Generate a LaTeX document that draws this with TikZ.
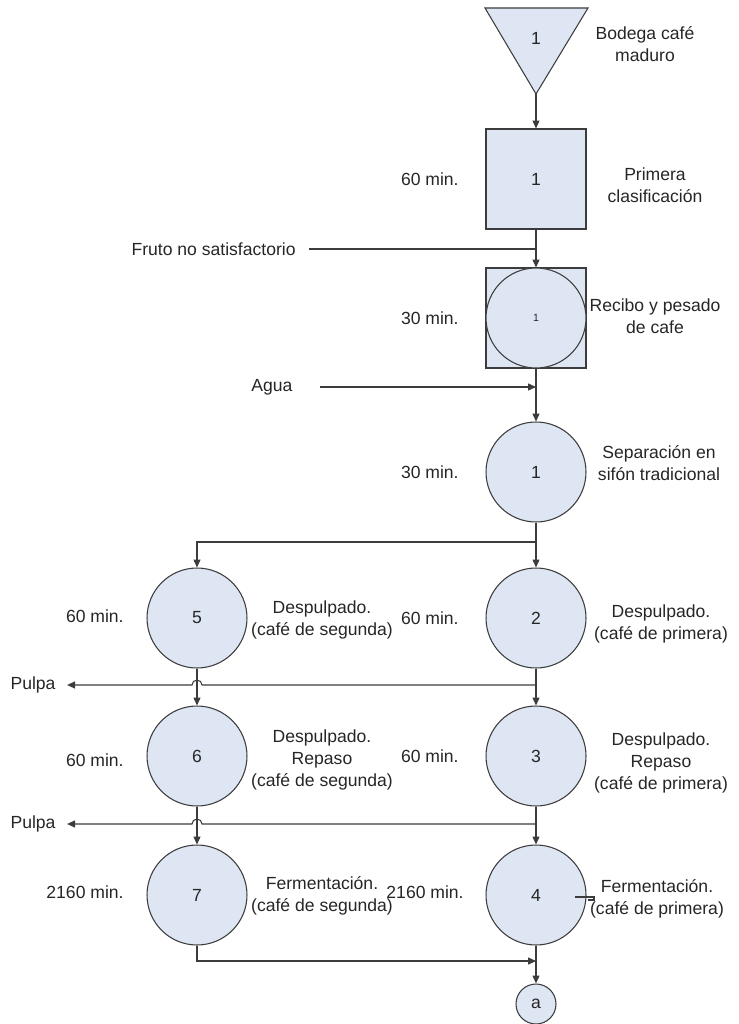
\documentclass[tikz,border=0pt]{standalone}
\usepackage{fontspec}
\setmainfont{Liberation Sans}
\usetikzlibrary{arrows.meta}
\definecolor{relleno}{RGB}{222,230,243}
\definecolor{trazo}{RGB}{60,60,60}
\begin{document}
\begin{tikzpicture}[x=0.02cm,y=-0.02cm,
	every node/.style={font=\fontsize{10}{12.5}\selectfont,text=black!85},
	circ/.style={draw=trazo,fill=relleno,circle,minimum size=2cm,inner sep=0pt},
	caja/.style={draw=trazo,fill=relleno,minimum size=2cm,inner sep=0pt},
	lbl/.style={align=center},
	tmin/.style={anchor=east},
	flow/.style={-{Triangle[length=4.5pt,width=4pt]}},
	line width=0.6pt,draw=trazo]
	\useasboundingbox (0,0) rectangle (738,1024);
	% almacen
	\draw[fill=relleno] (485,8) -- (588,8) -- (536,94) -- cycle;
	\coordinate (alm-tip) at (536,94);
	\node (alm) at (536,38) {1};
	\node[lbl] (alm-t) at (645,44) {Bodega café\\maduro};
	% columna principal
	\node[caja] (clas) at (536,179) {1};
	\node[lbl] (clas-t) at (655,185) {Primera\\clasificación};
	\node[tmin] (clas-m) at (465,179) {60 min.};
	\node[caja] (rec) at (536,318) {};
	\node[circ] (rec-c) at (rec) {\fontsize{6}{7}\selectfont 1};
	\node[lbl] (rec-t) at (655,316) {Recibo y pesado\\de cafe};
	\node[tmin] (rec-m) at (465,318) {30 min.};
	\node[circ] (sep) at (536,472) {1};
	\node[lbl] (sep-t) at (659,463) {Separación en\\sifón tradicional};
	\node[tmin] (sep-m) at (465,472) {30 min.};
	\node[circ] (d2) at (536,618) {2};
	\node[lbl] (d2-t) at (661,624) {Despulpado.\\(café de primera)};
	\node[tmin] (d2-m) at (465,618) {60 min.};
	\node[circ] (r3) at (536,756) {3};
	\node[lbl] (r3-t) at (661,763) {Despulpado.\\Repaso\\(café de primera)};
	\node[tmin] (r3-m) at (465,756) {60 min.};
	\node[circ] (f4) at (536,895) {4};
	\node[lbl] (f4-t) at (657,899) {Fermentación.\\(café de primera)};
	\node[tmin] (f4-m) at (470,892) {2160 min.};
	% columna segunda
	\node[circ] (d5) at (197,618) {5};
	\node[lbl] (d5-t) at (322,620) {Despulpado.\\(café de segunda)};
	\node[tmin] (d5-m) at (130,616) {60 min.};
	\node[circ] (r6) at (197,756) {6};
	\node[lbl] (r6-t) at (322,760) {Despulpado.\\Repaso\\(café de segunda)};
	\node[tmin] (r6-m) at (130,760) {60 min.};
	\node[circ] (f7) at (197,895) {7};
	\node[lbl] (f7-t) at (322,896) {Fermentación.\\(café de segunda)};
	\node[tmin] (f7-m) at (130,892) {2160 min.};
	\node[draw=trazo,fill=relleno,circle,minimum size=0.8cm,inner sep=0pt] (a) at (536,1004) {a};
	% entradas y salidas
	\node[anchor=east] (fruto) at (302,249) {Fruto no satisfactorio};
	\node (agua) at (272,387) {Agua};
	\node (pulpa1) at (33,685) {Pulpa};
	\node (pulpa2) at (33,824) {Pulpa};
	\coordinate (br) at (536,542);
	\coordinate (jn) at (536,961);
	% conectores
	\draw[flow] (alm-tip) -- (clas.north);
	\draw[flow] (clas.south) -- (rec.north);
	\draw ([xshift=4pt]fruto.east) -- (fruto.east -| clas.south);
	\draw[flow] (rec.south) -- (sep.north);
	\draw[flow] ([xshift=12pt]agua.east) -- (agua -| rec.south);
	\draw[flow] (sep.south) -- (d2.north);
	\draw[flow] (br) -| (d5.north);
	\draw[flow] (d2.south) -- (r3.north);
	\draw[flow] (d5.south) -- (r6.north);
	\draw[flow] (r3.south) -- (f4.north);
	\draw[flow] (r6.south) -- (f7.north);
	\draw[flow] (d2.south |- pulpa1.east) -- (202,0 |- pulpa1.east) arc[start angle=0,end angle=-180,radius=5] -- ([xshift=3pt]pulpa1.east);
	\draw[flow] (r3.south |- pulpa2.east) -- (202,0 |- pulpa2.east) arc[start angle=0,end angle=-180,radius=5] -- ([xshift=3pt]pulpa2.east);
	\draw[flow] (f7.south) |- (jn);
	\draw[flow] (f4.south) -- (a.north);
	% marca junto al 4
	\draw (575,897) -- (594,897) -- (594,900) -- (588,900);
\end{tikzpicture}
\end{document}
